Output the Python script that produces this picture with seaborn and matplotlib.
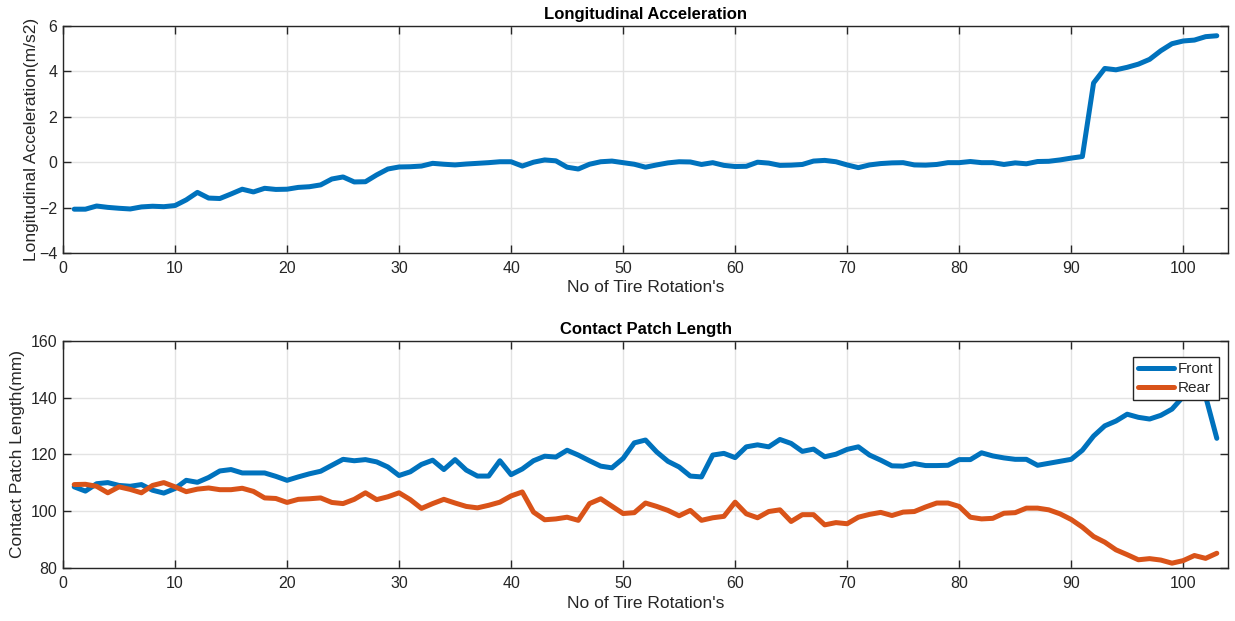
import numpy as np
import pandas as pd
import matplotlib
matplotlib.use("Agg")
import matplotlib.pyplot as plt
import seaborn as sns

# ---------------- data ----------------
rotations = list(range(1, 104))

long_accel = [
    -2.07, -2.07, -1.93, -1.99, -2.03, -2.06, -1.97, -1.94, -1.96, -1.91,
    -1.66, -1.33, -1.58, -1.60, -1.40, -1.19, -1.31, -1.15, -1.20, -1.19,
    -1.11, -1.08, -1.00, -0.74, -0.65, -0.87, -0.86, -0.56, -0.30, -0.21,
    -0.20, -0.17, -0.05, -0.09, -0.12, -0.08, -0.05, -0.02, 0.02, 0.02,
    -0.17, 0.00, 0.10, 0.06, -0.22, -0.30, -0.09, 0.02, 0.05, -0.02,
    -0.09, -0.22, -0.12, -0.03, 0.02, 0.01, -0.10, -0.02, -0.14, -0.19,
    -0.18, 0.00, -0.04, -0.14, -0.13, -0.10, 0.05, 0.08, 0.02, -0.12,
    -0.24, -0.12, -0.06, -0.03, -0.02, -0.12, -0.13, -0.10, -0.02, -0.02,
    0.03, -0.02, -0.02, -0.10, -0.03, -0.07, 0.03, 0.04, 0.10, 0.18,
    0.25, 3.49, 4.13, 4.07, 4.18, 4.32, 4.53, 4.91, 5.22, 5.34,
    5.38, 5.53, 5.57,
]

front_cpl = [
    108.6, 107.1, 109.7, 110.1, 109.1, 108.8, 109.4, 107.4, 106.4, 108.0,
    110.9, 110.2, 111.9, 114.2, 114.7, 113.5, 113.5, 113.5, 112.3, 110.9,
    112.1, 113.2, 114.1, 116.2, 118.3, 117.8, 118.2, 117.4, 115.6, 112.6,
    113.9, 116.5, 118.0, 114.7, 118.2, 114.5, 112.4, 112.4, 117.8, 112.9,
    114.9, 117.8, 119.4, 119.1, 121.5, 119.8, 117.8, 115.9, 115.3, 118.6,
    124.1, 125.1, 120.9, 117.6, 115.6, 112.4, 112.1, 119.8, 120.4, 118.9,
    122.7, 123.4, 122.7, 125.3, 123.9, 121.1, 121.9, 119.2, 120.1, 121.8,
    122.7, 119.8, 118.0, 116.0, 115.9, 116.8, 116.1, 116.1, 116.2, 118.2,
    118.2, 120.6, 119.5, 118.8, 118.3, 118.3, 116.2, 116.9, 117.6, 118.3,
    121.5, 126.5, 130.1, 131.8, 134.2, 133.1, 132.5, 133.8, 136.0, 140.4,
    146.0, 140.5, 125.7,
]

rear_cpl = [
    109.4, 109.5, 108.8, 106.5, 108.6, 107.7, 106.5, 109.1, 110.1, 108.6,
    106.9, 107.8, 108.2, 107.6, 107.6, 108.1, 107.0, 104.7, 104.5, 103.1,
    104.2, 104.4, 104.7, 103.1, 102.7, 104.2, 106.5, 104.1, 105.1, 106.5,
    104.1, 101.0, 102.7, 104.2, 102.9, 101.7, 101.2, 102.1, 103.2, 105.4,
    106.8, 99.7, 97.0, 97.3, 97.9, 96.8, 102.7, 104.4, 101.8, 99.2,
    99.5, 102.9, 101.7, 100.3, 98.4, 100.3, 96.8, 97.7, 98.2, 103.2,
    99.1, 97.7, 99.9, 100.5, 96.4, 98.8, 98.8, 95.2, 96.0, 95.6,
    97.9, 98.9, 99.6, 98.5, 99.7, 99.9, 101.5, 102.9, 102.9, 101.7,
    97.9, 97.3, 97.5, 99.3, 99.5, 101.1, 101.1, 100.5, 99.1, 97.1,
    94.4, 91.1, 89.1, 86.4, 84.7, 82.9, 83.3, 82.8, 81.7, 82.6,
    84.4, 83.4, 85.2,
]

series_names = ["Front", "Rear"]
x_ticks = list(range(0, 101, 10))
top_yticks = [-4, -2, 0, 2, 4, 6]
bot_yticks = [80, 100, 120, 140, 160]

# ---------------- style ----------------
sns.set_theme(style="whitegrid")
plt.rcParams["font.family"] = ["Liberation Sans", "DejaVu Sans"]

BLUE = "#0072BD"
ORANGE = "#D95319"
AX_COL = "#262626"
GRID_COL = "#e3e3e3"

fig = plt.figure(figsize=(12.35, 6.21), dpi=100)
W, H = 1235, 621
left, right = 63, 1228
ax1 = fig.add_axes([left / W, 1 - 253 / H, (right - left) / W, 227 / H])
ax2 = fig.add_axes([left / W, 1 - 568 / H, (right - left) / W, 227 / H])

df_top = pd.DataFrame({"x": rotations, "y": long_accel})
sns.lineplot(data=df_top, x="x", y="y", ax=ax1, color=BLUE, linewidth=3.6)

df_bot = pd.DataFrame({
    "x": rotations * 2,
    "y": front_cpl + rear_cpl,
    "series": [series_names[0]] * len(rotations) + [series_names[1]] * len(rotations),
})
sns.lineplot(data=df_bot, x="x", y="y", hue="series", ax=ax2,
             palette={series_names[0]: BLUE, series_names[1]: ORANGE},
             linewidth=3.6)


def style_ax(ax, yticks, title, ylabel, ylabelpad):
    ax.set_xlim(0, 104)
    ax.set_ylim(yticks[0], yticks[-1])
    ax.set_xticks(x_ticks)
    ax.set_yticks(yticks)
    ax.set_facecolor("white")
    ax.grid(True, color=GRID_COL, linewidth=1.0)
    for s in ax.spines.values():
        s.set_color(AX_COL)
        s.set_linewidth(1.0)
        s.set_visible(True)
    ax.tick_params(axis="both", direction="in", length=6, width=1.0,
                   color=AX_COL, labelcolor=AX_COL, labelsize=11.5,
                   top=True, right=True, bottom=True, left=True)
    ax.tick_params(axis="x", pad=6)
    ax.tick_params(axis="y", pad=4)
    ax.set_title(title, fontsize=12, fontweight="bold", color="black", pad=5)
    ax.set_xlabel("No of Tire Rotation's", fontsize=12.5, color=AX_COL, labelpad=3)
    ax.set_ylabel(ylabel, fontsize=12.5, color=AX_COL, labelpad=ylabelpad)


style_ax(ax1, top_yticks, "Longitudinal Acceleration", "Longitudinal Acceleration(m/s2)", 0)
style_ax(ax2, bot_yticks, "Contact Patch Length", "Contact Patch Length(mm)", 4)

leg = ax2.legend(loc="upper right", bbox_to_anchor=(1 - 9 / 1165, 1 - 16 / 227),
                 borderaxespad=0, fontsize=11, frameon=True, fancybox=False,
                 handlelength=2.3, handletextpad=0.3, borderpad=0.35,
                 labelspacing=0.3, title=None)
leg.get_frame().set_edgecolor(AX_COL)
leg.get_frame().set_linewidth(1.0)
leg.get_frame().set_alpha(1.0)
for line in leg.get_lines():
    line.set_linewidth(3.6)

fig.savefig("out.png", dpi=100, facecolor="white")
